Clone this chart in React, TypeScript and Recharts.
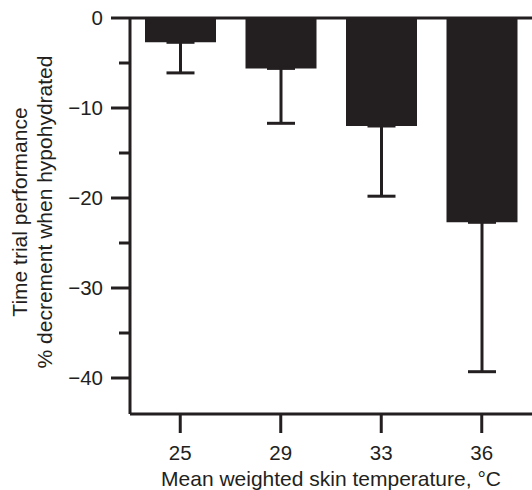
import { BarChart, Bar, XAxis, YAxis, ErrorBar, ReferenceLine } from "recharts";

const TEMPS = ["25", "29", "33", "36"];
const DECREMENT = [-2.7, -5.6, -12.0, -22.7];
// SD drawn downward only: [lower, upper]
const SD_LOW = [3.4, 6.1, 7.8, 16.6];
const Y_TICKS = [0, -5, -10, -15, -20, -25, -30, -35, -40];
const Y_LABELS = [0, -10, -20, -30, -40];

const INK = "#231f20";
const FONT = "'Liberation Sans', Arial, Helvetica, sans-serif";

const data = TEMPS.map((t, i) => ({
  temp: t,
  value: DECREMENT[i],
  err: [SD_LOW[i], 0],
}));

const fmt = (v: number) => (v < 0 ? `\u2212${-v}` : `${v}`);

const YTick = ({ x, y, payload }: any) => {
  const v = payload.value as number;
  const major = Y_LABELS.includes(v);
  const len = major ? 19 : 11;
  return (
    <g>
      <line x1={x} x2={x - len} y1={y} y2={y} stroke={INK} strokeWidth={3} />
      {major && (
        <text
          x={x - 27}
          y={y}
          dy="0.36em"
          textAnchor="end"
          fontSize={20.5}
          fontFamily={FONT}
          fill={INK}
        >
          {fmt(v)}
        </text>
      )}
    </g>
  );
};

const YLabel = ({ viewBox }: any) => {
  const cy = viewBox.y + viewBox.height / 2 - 4;
  return (
    <g fontSize={21} fontFamily={FONT} fill={INK}>
      <text x={27} y={cy} textAnchor="middle" transform={`rotate(-90, 27, ${cy})`}>
        Time trial performance
      </text>
      <text x={52} y={cy} textAnchor="middle" transform={`rotate(-90, 52, ${cy})`}>
        % decrement when hypohydrated
      </text>
    </g>
  );
};

const XLabel = ({ viewBox }: any) => (
  <text
    x={viewBox.x + viewBox.width / 2}
    y={486}
    textAnchor="middle"
    fontSize={21}
    fontFamily={FONT}
    fill={INK}
  >
    Mean weighted skin temperature, °C
  </text>
);

const App = () => (
  <div style={{ width: 532, height: 490 }}>
    <style>{`body{margin:0}`}</style>
    <BarChart
      width={532}
      height={490}
      data={data}
      margin={{ top: 18, right: 0, bottom: 0, left: 0 }}
      barSize={71}
    >
      <XAxis
        dataKey="temp"
        height={76}
        axisLine={{ stroke: INK, strokeWidth: 3 }}
        tickLine={{ stroke: INK, strokeWidth: 3 }}
        tickSize={19}
        tickMargin={12}
        tick={{ fontSize: 20.5, fontFamily: FONT, fill: INK }}
        label={<XLabel />}
      />
      <YAxis
        width={130}
        domain={[-44, 0]}
        ticks={Y_TICKS}
        interval={0}
        allowDataOverflow
        axisLine={{ stroke: INK, strokeWidth: 3 }}
        tickLine={false}
        tickSize={0}
        tickMargin={0}
        tick={<YTick />}
        label={<YLabel />}
      />
      <Bar dataKey="value" fill={INK} isAnimationActive={false}>
        <ErrorBar
          dataKey="err"
          direction="y"
          width={14}
          stroke={INK}
          strokeWidth={3}
          isAnimationActive={false}
        />
      </Bar>
      <ReferenceLine y={0} stroke={INK} strokeWidth={3} />
    </BarChart>
  </div>
);

export default App;
